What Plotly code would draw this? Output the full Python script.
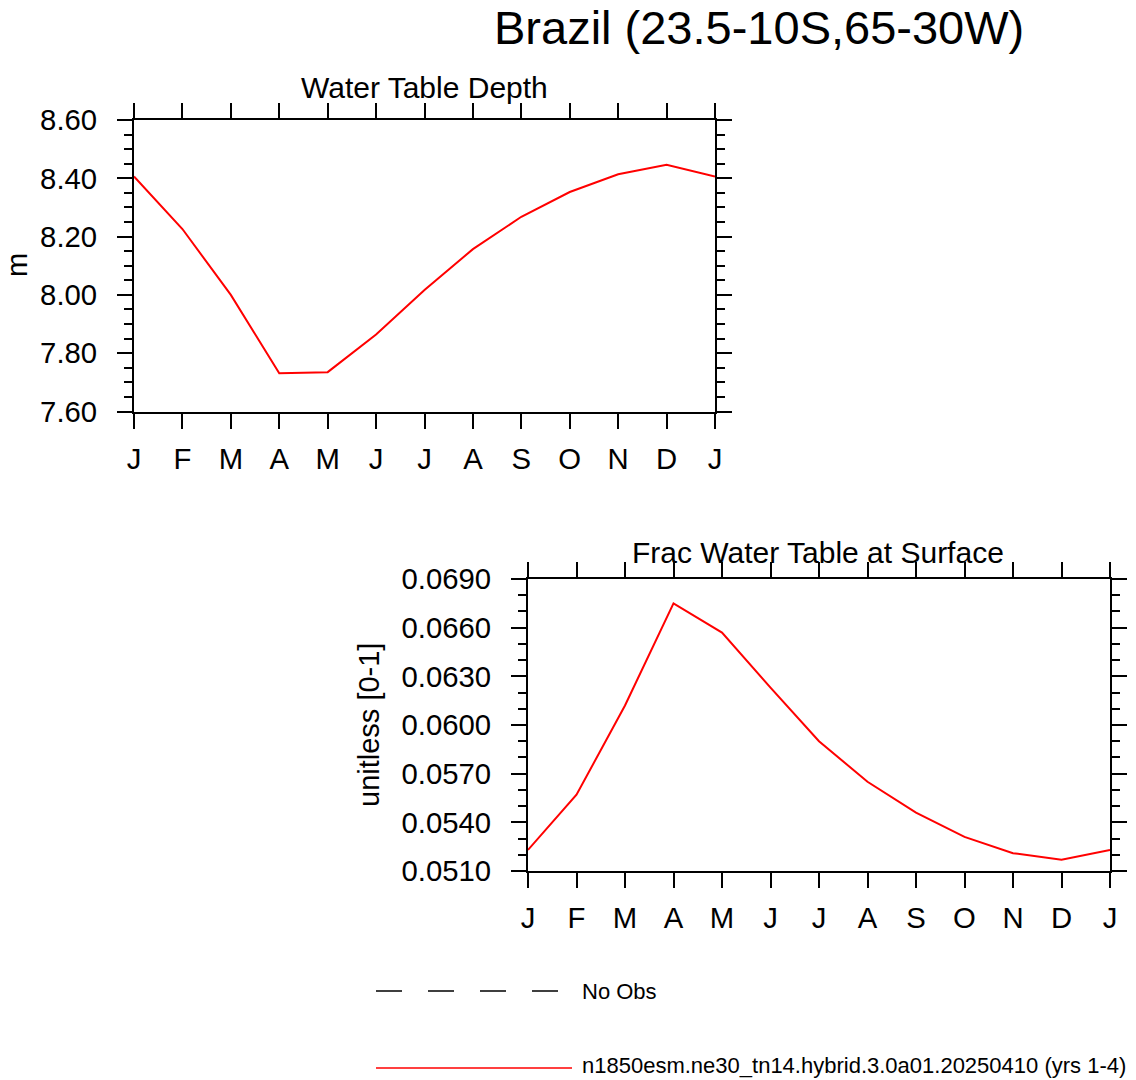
import plotly.graph_objects as go

# monthly climatology, January repeated at the end
months = ["J", "F", "M", "A", "M", "J", "J", "A", "S", "O", "N", "D", "J"]
month_pos = list(range(len(months)))

wtd = [8.406, 8.226, 8.000, 7.731, 7.735, 7.864, 8.017, 8.157, 8.268, 8.353, 8.414, 8.446, 8.406]
frac_wt = [0.0523, 0.0557, 0.0612, 0.0675, 0.0657, 0.0623, 0.0590, 0.0565, 0.0546, 0.0531, 0.0521, 0.0517, 0.0523]

case_name = "n1850esm.ne30_tn14.hybrid.3.0a01.20250410 (yrs 1-4)"

W, H = 1136, 1080
FONT = "Liberation Sans, Arial, Helvetica, sans-serif"

def px(x):
    return x / W

def py(y):
    return 1 - y / H

fig = go.Figure()

fig.add_trace(go.Scatter(x=month_pos, y=wtd, mode="lines",
                         line=dict(color="red", width=2), xaxis="x", yaxis="y",
                         showlegend=False))
fig.add_trace(go.Scatter(x=month_pos, y=frac_wt, mode="lines",
                         line=dict(color="red", width=2), xaxis="x2", yaxis="y2",
                         showlegend=False))

ax_common = dict(showline=True, linecolor="black", linewidth=2, mirror="ticks",
                 ticks="outside", ticklen=15, tickwidth=2, tickcolor="black",
                 showgrid=False, zeroline=False,
                 tickfont=dict(family=FONT, size=29.3, color="black"))

xcommon = dict(ax_common, range=[0, 12], tickmode="array", tickvals=month_pos,
               ticktext=months, ticklabelstandoff=5)

fig.update_layout(
    width=W, height=H,
    # annotations near the edges must not push the plot area in
    margin=dict(l=0, r=0, t=0, b=0, autoexpand=False),
    paper_bgcolor="white", plot_bgcolor="white",
    xaxis=dict(xcommon, domain=[px(134), px(715)], anchor="y"),
    yaxis=dict(ax_common, domain=[py(411.5), py(120)], anchor="x",
               range=[7.6, 8.6], tickmode="linear", tick0=7.6, dtick=0.2,
               tickformat=".2f", ticklabelstandoff=14,
               minor=dict(ticks="outside", ticklen=8, tickwidth=1.5,
                          tickcolor="black", dtick=0.05, tick0=7.6)),
    xaxis2=dict(xcommon, domain=[px(528), px(1110)], anchor="y2"),
    yaxis2=dict(ax_common, domain=[py(871), py(579)], anchor="x2",
                range=[0.051, 0.069], tickmode="linear", tick0=0.051, dtick=0.003,
                tickformat=".4f", ticklabelstandoff=14,
                minor=dict(ticks="outside", ticklen=8, tickwidth=1.5,
                           tickcolor="black", dtick=0.001, tick0=0.051)),
)

annots = [
    dict(text="Brazil (23.5-10S,65-30W)", x=px(759), y=py(28), size=47),
    dict(text="Water Table Depth", x=px(425), y=py(87), size=30),
    dict(text="Frac Water Table at Surface", x=px(818), y=py(552), size=30),
    dict(text="m", x=px(17), y=py(265), size=29, angle=-90),
    dict(text="unitless [0-1]", x=px(369), y=py(725), size=29, angle=-90),
]
for a in annots:
    fig.add_annotation(text=a["text"], x=a["x"], y=a["y"], xref="paper", yref="paper",
                       xanchor="center", yanchor="middle", showarrow=False,
                       textangle=a.get("angle", 0),
                       font=dict(family=FONT, size=a["size"], color="black"))

# legend drawn below the panels
fig.add_shape(type="line", xref="paper", yref="paper",
              x0=px(376), x1=px(558), y0=py(991), y1=py(991),
              line=dict(color="black", width=1.5, dash="26px,26px"))
fig.add_shape(type="line", xref="paper", yref="paper",
              x0=px(376), x1=px(572), y0=py(1068), y1=py(1068),
              line=dict(color="red", width=1.5))
fig.add_annotation(text="No Obs", x=px(580), y=py(991), xref="paper", yref="paper",
                   xanchor="left", yanchor="middle", showarrow=False,
                   font=dict(family=FONT, size=22, color="black"))
fig.add_annotation(text=case_name, x=px(580), y=py(1065.5), xref="paper", yref="paper",
                   xanchor="left", yanchor="middle", showarrow=False,
                   font=dict(family=FONT, size=22, color="black"))

# page margin would push the fixed-size figure off the window
fig.write_html("out.html", config={"displayModeBar": False},
               post_script="document.body.style.margin='0';document.body.style.overflow='hidden';")
